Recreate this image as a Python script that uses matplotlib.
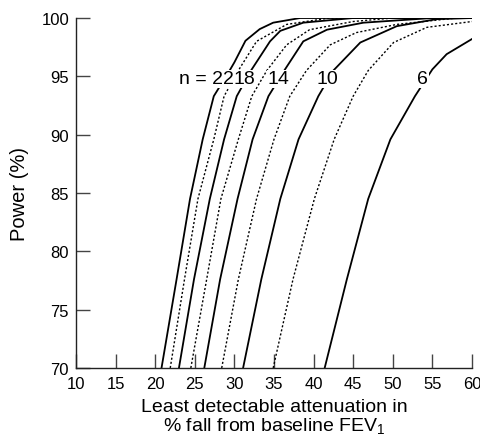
import matplotlib
matplotlib.use("Agg")
import matplotlib.pyplot as plt

plt.rcParams["font.family"] = ["Liberation Sans", "DejaVu Sans"]
plt.rcParams["mathtext.fontset"] = "custom"
plt.rcParams["mathtext.rm"] = "Liberation Sans"
plt.rcParams["mathtext.it"] = "Liberation Sans:italic"

# curves: least detectable attenuation (%) vs power (%)
n22_x = [20.8, 22.7, 24.4, 26.0, 27.4, 29.4, 30.0, 31.4, 33.2, 34.9, 38.3, 60]
n22_y = [70, 77.6, 84.5, 89.6, 93.3, 95.5, 96.2, 98.05, 99.05, 99.6, 100, 100]
n20_x = [21.9, 23.7, 25.4, 27.4, 28.7, 30.5, 32.8, 36.6, 42, 60]
n20_y = [70, 77.6, 84.5, 89.6, 93.3, 95.5, 98.0, 99.45, 100, 100]
n18_x = [23.0, 24.9, 26.9, 28.7, 30.3, 32.1, 34.5, 35.8, 38.7, 45, 60]
n18_y = [70, 77.6, 84.5, 89.6, 93.3, 95.5, 98.0, 98.9, 99.6, 100, 100]
n16_x = [24.5, 26.5, 28.3, 30.5, 32.2, 34.1, 36.6, 39.5, 45.0, 50, 60]
n16_y = [70, 77.6, 84.5, 89.6, 93.3, 95.5, 97.7, 99.0, 99.7, 100, 100]
n14_x = [26.2, 28.2, 30.4, 32.3, 34.3, 36.3, 38.7, 41.7, 46.3, 55, 60]
n14_y = [70, 77.6, 84.5, 89.6, 93.3, 95.5, 98.0, 99.0, 99.6, 100, 100]
n12_x = [28.4, 30.5, 32.8, 35.0, 37.0, 39.1, 42.1, 45.4, 50.5, 58, 60]
n12_y = [70, 77.6, 84.5, 89.6, 93.3, 95.5, 97.7, 98.75, 99.45, 100, 100]
n10_x = [31.1, 33.4, 35.8, 38.1, 40.6, 42.5, 45.9, 50.5, 55.5, 60]
n10_y = [70, 77.6, 84.5, 89.6, 93.3, 95.5, 97.9, 99.3, 99.9, 100]
n8_x = [34.9, 37.4, 40.1, 42.6, 45.0, 46.9, 50.1, 54.3, 60]
n8_y = [70, 77.6, 84.5, 89.6, 93.3, 95.5, 97.9, 99.2, 99.7]
n6_x = [41.4, 44.2, 46.9, 49.7, 52.8, 55.0, 56.8, 60]
n6_y = [70, 77.6, 84.5, 89.6, 93.3, 95.6, 96.9, 98.2]

curves = [
    (n22_x, n22_y, "-"), (n20_x, n20_y, ":"), (n18_x, n18_y, "-"),
    (n16_x, n16_y, ":"), (n14_x, n14_y, "-"), (n12_x, n12_y, ":"),
    (n10_x, n10_y, "-"), (n8_x, n8_y, ":"), (n6_x, n6_y, "-"),
]

labels = ["n = 22", "18", "14", "10", "6"]
label_x = [29.95, 31.25, 35.6, 41.8, 53.8]
label_y = 94.8

fig = plt.figure(figsize=(4.8, 4.39), dpi=100)
ax = fig.add_axes([0.1583, 0.1595, 0.825, 0.7972])

for x, y, ls in curves:
    if ls == "-":
        ax.plot(x, y, color="black", lw=1.3)
    else:
        ax.plot(x, y, color="black", lw=1.0, linestyle=(0, (1.5, 1.5)))

for i, (txt, lx) in enumerate(zip(labels, label_x)):
    ha = "right" if i == 0 else "center"
    ax.text(lx, label_y, txt, ha=ha, va="center", fontsize=14, zorder=5,
            bbox=dict(facecolor="white", edgecolor="none", pad=0.3))

ax.set_xlim(10, 60)
ax.set_ylim(70, 100)
ax.set_xticks(range(10, 61, 5))
ax.set_yticks(range(70, 101, 5))
for s in ["top", "right"]:
    ax.spines[s].set_visible(False)
for s in ["left", "bottom"]:
    ax.spines[s].set_color("#222222")
    ax.spines[s].set_linewidth(1.0)
ax.tick_params(direction="in", length=10, width=1.0, color="#444444",
               labelsize=12, pad=5)
ax.tick_params(axis="x", pad=6)

ax.set_xlabel("Least detectable attenuation in\n% fall from baseline FEV$_1$",
              fontsize=14, labelpad=5, linespacing=0.95)
ax.set_ylabel("Power (%)", fontsize=14.5, labelpad=9)

fig.savefig("out.png", dpi=100)
